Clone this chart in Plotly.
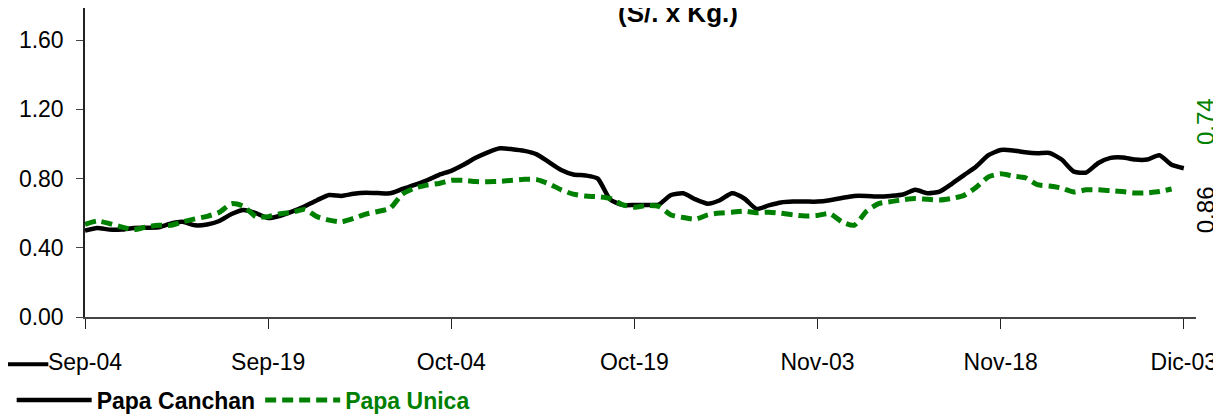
import pandas as pd
import plotly.graph_objects as go

FONT = "Liberation Sans, Arial, sans-serif"

start_date = "2009-09-04"

# daily prices (S/. x Kg.) from Sep-04 to Dic-03
papa_canchan = [
    0.50, 0.515, 0.505, 0.505, 0.515, 0.516, 0.518, 0.54, 0.55, 0.53,
    0.535, 0.555, 0.595, 0.618, 0.60, 0.572, 0.585, 0.61, 0.64, 0.675,
    0.705, 0.70, 0.712, 0.718, 0.716, 0.715, 0.74, 0.763, 0.79, 0.822,
    0.845, 0.88, 0.92, 0.952, 0.975, 0.97, 0.96, 0.94, 0.895, 0.85,
    0.824, 0.818, 0.80, 0.68, 0.648, 0.647, 0.647, 0.65, 0.705, 0.715,
    0.68, 0.655, 0.675, 0.715, 0.685, 0.625, 0.645, 0.662, 0.667, 0.667,
    0.667, 0.675, 0.688, 0.70, 0.70, 0.696, 0.70, 0.708, 0.735, 0.715,
    0.725, 0.77, 0.82, 0.87, 0.935, 0.965, 0.963, 0.952, 0.946, 0.948,
    0.91, 0.84, 0.835, 0.89, 0.92, 0.922, 0.91, 0.91, 0.935, 0.88,
    0.86,
]

papa_unica = [
    0.535, 0.555, 0.54, 0.52, 0.505, 0.52, 0.53, 0.53, 0.55, 0.567,
    0.582, 0.605, 0.655, 0.64, 0.58, 0.58, 0.597, 0.605, 0.622, 0.58,
    0.56, 0.55, 0.57, 0.595, 0.61, 0.63, 0.71, 0.745, 0.762, 0.772,
    0.79, 0.79, 0.783, 0.782, 0.784, 0.79, 0.796, 0.794, 0.77, 0.735,
    0.71, 0.699, 0.695, 0.685, 0.65, 0.635, 0.645, 0.64, 0.59, 0.575,
    0.565, 0.59, 0.601, 0.606, 0.612, 0.603, 0.606, 0.60, 0.59, 0.584,
    0.587, 0.598, 0.55, 0.53, 0.61, 0.655, 0.667, 0.678, 0.685, 0.68,
    0.676, 0.685, 0.703, 0.75, 0.81, 0.828, 0.815, 0.805, 0.765, 0.757,
    0.745, 0.722, 0.735, 0.735, 0.73, 0.725, 0.717, 0.718, 0.725, 0.74,
]

tick_dates = ["2009-09-04", "2009-09-19", "2009-10-04", "2009-10-19",
              "2009-11-03", "2009-11-18", "2009-12-03"]
tick_labels = ["Sep-04", "Sep-19", "Oct-04", "Oct-19", "Nov-03", "Nov-18", "Dic-03"]

y_ticks = [0.0, 0.4, 0.8, 1.2, 1.6]

BLACK = "#000000"
GREEN = "#008000"


def build_trace(y, name, color, dash="solid", width=4.5):
    x = pd.date_range(start_date, periods=len(y), freq="D")
    return go.Scatter(
        x=x,
        y=y,
        name=name,
        mode="lines",
        line={"color": color, "width": width, "dash": dash,
              "shape": "spline", "smoothing": 0.6},
    )


fig = go.Figure()
fig.add_trace(build_trace(papa_canchan, "<b>Papa Canchan</b>", BLACK))
fig.add_trace(build_trace(
    papa_unica,
    "<b><span style='color:%s'>Papa Unica</span></b>" % GREEN,
    GREEN,
    dash="11px,6px",
    width=5,
))

# last values, rotated at the right
fig.add_annotation(
    text="%.2f" % papa_canchan[-1], xref="paper", yref="y",
    x=1.0, xshift=25, y=0.62, textangle=-90, showarrow=False,
    font={"size": 24, "color": BLACK, "family": FONT},
)
fig.add_annotation(
    text="%.2f" % papa_unica[-1], xref="paper", yref="y",
    x=1.0, xshift=25, y=1.13, textangle=-90, showarrow=False,
    font={"size": 24, "color": GREEN, "family": FONT},
)

# title, mostly cut off at the top
fig.add_annotation(
    text="<b>(S/. x Kg.)</b>", xref="paper", yref="paper",
    x=0.534, y=1.0, yshift=-22, xanchor="center", yanchor="bottom",
    showarrow=False, font={"size": 26, "color": BLACK, "family": FONT},
)

# stray legend stroke at the left
fig.add_shape(type="line", xref="paper", yref="paper",
              x0=-0.08, x1=-0.033, y0=-0.153, y1=-0.153,
              line={"color": BLACK, "width": 4})

fig.update_xaxes(
    type="date",
    range=["2009-09-04", "2009-12-04"],
    tickvals=tick_dates,
    ticktext=tick_labels,
    ticks="outside",
    ticklen=10,
    tickcolor="#222222",
    showline=True,
    linecolor="#444444",
    linewidth=1.5,
    showgrid=False,
    zeroline=False,
    automargin=False,
    ticklabelstandoff=14,
    ticklabeloverflow="allow",
    tickfont={"size": 23, "color": BLACK, "family": FONT},
)
fig.update_yaxes(
    range=[0, 1.786],
    tickvals=y_ticks,
    tickformat=".2f",
    ticks="outside",
    ticklen=7,
    tickcolor="#444444",
    showline=True,
    linecolor="#222222",
    linewidth=1.5,
    showgrid=False,
    zeroline=False,
    automargin=False,
    ticklabelstandoff=8,
    tickfont={"size": 23, "color": BLACK, "family": FONT},
)

# the page adds an 8px body margin, so the figure is sized to fit inside it
fig.update_layout(
    width=1213,
    height=408,
    margin={"l": 77, "r": 25, "t": 0, "b": 99, "autoexpand": False},
    plot_bgcolor="white",
    paper_bgcolor="white",
    showlegend=True,
    legend={
        "orientation": "h",
        "x": -0.066, "xanchor": "left",
        "y": -0.269, "yanchor": "middle",
        "font": {"size": 23, "color": BLACK, "family": FONT},
        "itemwidth": 75,
        "bgcolor": "rgba(0,0,0,0)",
        "tracegroupgap": 0,
    },
)

fig.write_html("out.html")
